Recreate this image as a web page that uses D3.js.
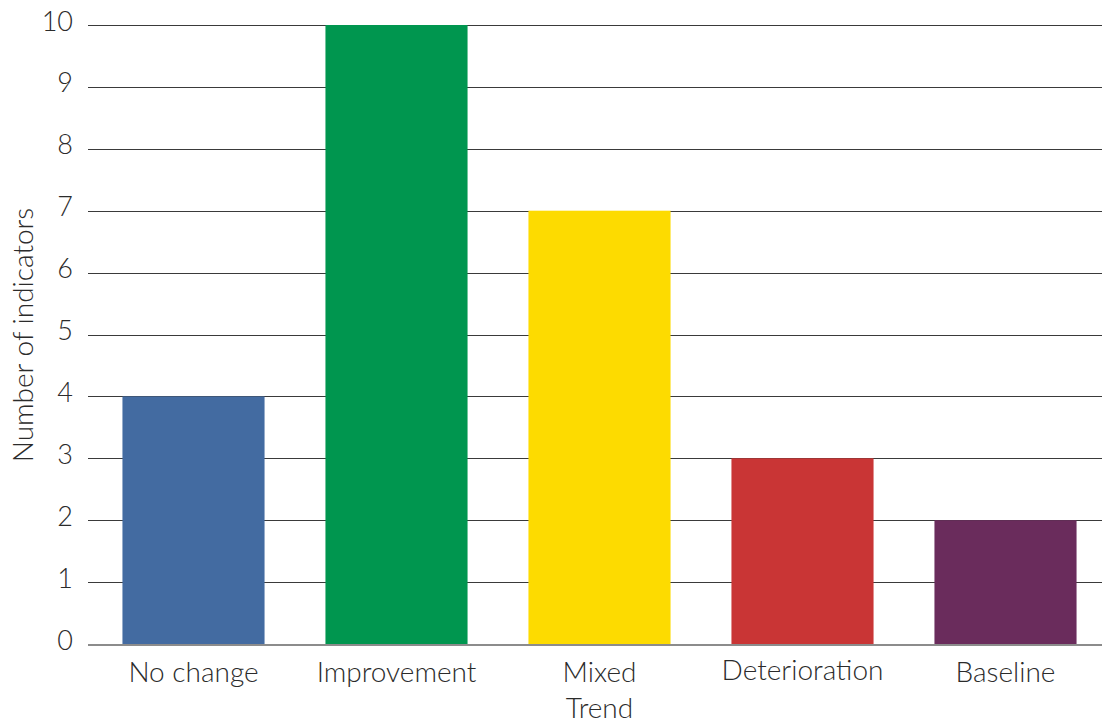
<!DOCTYPE html>
<html>
<head>
<meta charset="utf-8">
<script src="https://cdn.jsdelivr.net/npm/d3@7"></script>
<style>
  html, body { margin: 0; padding: 0; background: #fff; }
  svg text { font-family: Lato, "Open Sans", sans-serif; font-weight: 300; fill: #2b2b2b; }
</style>
</head>
<body>
<svg id="chart" width="1102" height="723"></svg>
<script>
// Indicator counts by trend status
const categories = ["No change", "Improvement", "Mixed Trend", "Deterioration", "Baseline"];
const values = [4, 10, 7, 3, 2];
const colors = ["#436BA1", "#00964F", "#FDDB00", "#C93535", "#6A2C5C"];
const yTicks = [0, 1, 2, 3, 4, 5, 6, 7, 8, 9, 10];

const svg = d3.select("#chart");
const plotLeft = 88, plotRight = 1102;
const tickFont = "27px";
const labelFont = "28px";

const x = d3.scaleBand().domain(categories).range([92, 1107]).paddingInner(0.3).paddingOuter(0.15);
const y = d3.scaleLinear().domain([0, 10]).range([644, 25]);

// horizontal gridlines
svg.append("g").selectAll("line")
  .data(yTicks.filter(d => d > 0))
  .join("line")
  .attr("x1", plotLeft).attr("x2", plotRight)
  .attr("y1", d => Math.round(y(d)) + 0.5).attr("y2", d => Math.round(y(d)) + 0.5)
  .attr("stroke", "#3a3a3a").attr("stroke-width", 1);

// bars
svg.append("g").selectAll("rect")
  .data(categories)
  .join("rect")
  .attr("x", d => x(d))
  .attr("width", x.bandwidth())
  .attr("y", (d, i) => y(values[i]))
  .attr("height", (d, i) => y(0) - y(values[i]))
  .attr("fill", (d, i) => colors[i]);

// baseline
svg.append("line")
  .attr("x1", plotLeft).attr("x2", plotRight)
  .attr("y1", y(0) + 1).attr("y2", y(0) + 1)
  .attr("stroke", "#8c8c8c").attr("stroke-width", 2);

// y tick labels
svg.append("g").selectAll("text")
  .data(yTicks)
  .join("text")
  .attr("x", 73)
  .attr("y", d => y(d) - 5)
  .attr("text-anchor", "end")
  .attr("dominant-baseline", "central")
  .style("font-size", tickFont)
  .text(d => d);

// category labels, "Mixed Trend" wraps onto two lines
const catG = svg.append("g");
categories.forEach((c, i) => {
  const lines = c === "Mixed Trend" ? ["Mixed", "Trend"] : [c];
  const cx = x(c) + x.bandwidth() / 2;
  const t = catG.append("text")
    .attr("x", cx)
    .attr("y", c === "Deterioration" ? 680 : 682)
    .attr("text-anchor", "middle")
    .style("font-size", labelFont);
  lines.forEach((l, j) => {
    t.append("tspan")
      .attr("x", cx)
      .attr("dy", j === 0 ? 0 : 36)
      .text(l);
  });
});

// y axis title
svg.append("text")
  .attr("transform", "translate(33,335) rotate(-90)")
  .attr("text-anchor", "middle")
  .style("font-size", labelFont)
  .text("Number of indicators");
</script>
</body>
</html>
